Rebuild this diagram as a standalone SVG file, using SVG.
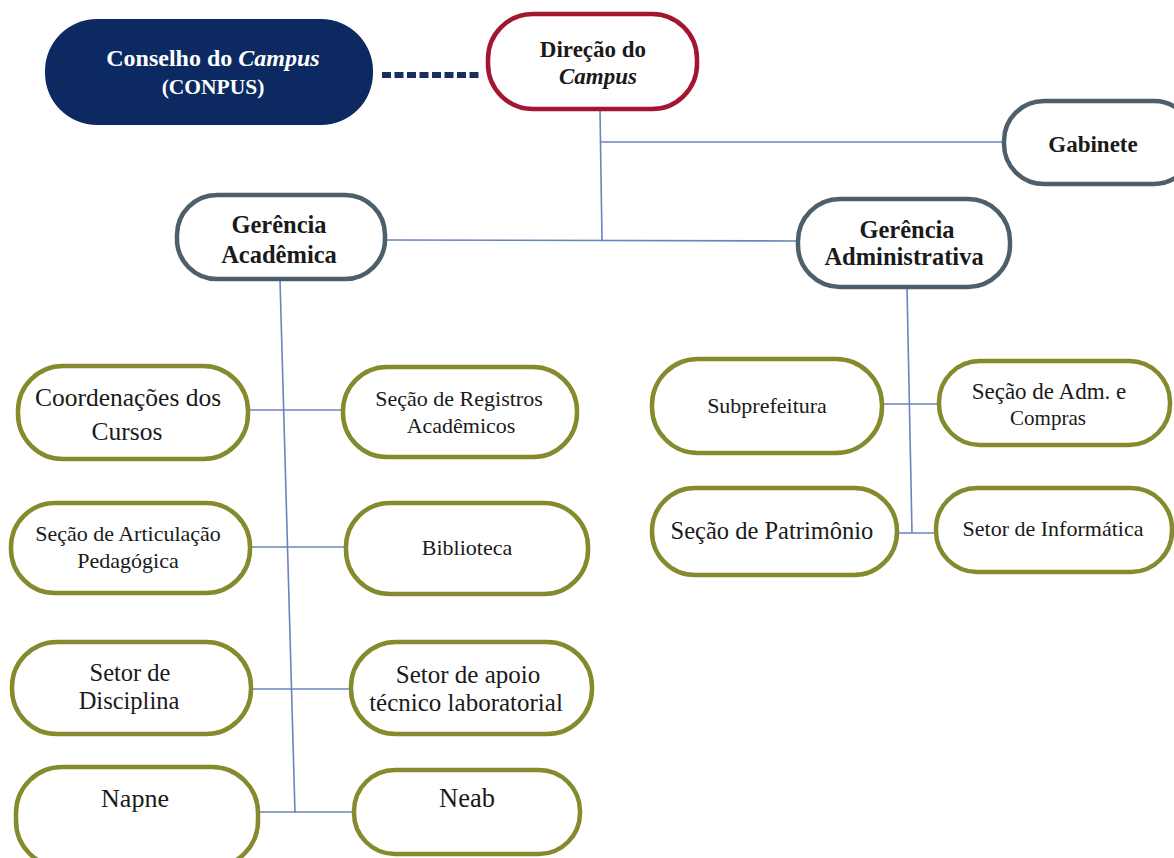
<svg xmlns="http://www.w3.org/2000/svg" width="1174" height="858" viewBox="0 0 1174 858">
<style>
.bg{fill:#ffffff}
.n{fill:#ffffff;stroke-width:4.5}
.olive{stroke:#858a2d}
.slate{stroke:#4e5f6c}
.red{stroke:#a3162f}
.ln{stroke:#6a84bd;stroke-width:1.6;fill:none}
.t{font-family:"Liberation Serif",serif;font-size:22px;fill:#1a1a1a;text-anchor:middle}
.tb{font-family:"Liberation Serif",serif;font-size:23px;font-weight:bold;fill:#1a1a1a;text-anchor:middle}
.w{fill:#ffffff}
</style>
<rect class="bg" width="1174" height="858"/>
<g id="connectors">
<line x1="382" y1="75" x2="480" y2="75" stroke="#1a2f5e" stroke-width="6" stroke-dasharray="9,3.5"/>
<line class="ln" x1="600" y1="110" x2="602" y2="241"/>
<line class="ln" x1="601" y1="142" x2="1003" y2="142"/>
<line class="ln" x1="385" y1="240" x2="797" y2="241"/>
<line class="ln" x1="280" y1="280" x2="295" y2="813"/>
<line class="ln" x1="248" y1="410" x2="343" y2="410"/>
<line class="ln" x1="250" y1="547" x2="346" y2="547"/>
<line class="ln" x1="251" y1="689" x2="350" y2="689"/>
<line class="ln" x1="258" y1="812" x2="353" y2="812"/>
<line class="ln" x1="907" y1="287" x2="912" y2="533"/>
<line class="ln" x1="882" y1="404" x2="939" y2="404"/>
<line class="ln" x1="897" y1="533" x2="936" y2="533"/>
</g>
<g id="conselho">
<rect x="45" y="19" width="328" height="106" rx="52" fill="#0c2a61"/>
<text class="tb w" x="213" y="66" style="font-size:24px">Conselho do <tspan font-style="italic">Campus</tspan></text>
<text class="tb w" x="213" y="94" style="font-size:21.5px">(CONPUS)</text>
</g>
<g id="direcao">
<rect class="n red" x="488" y="14" width="209" height="95" rx="45"/>
<text class="tb" x="593" y="57">Direção do</text>
<text class="tb" x="598" y="84" font-style="italic">Campus</text>
</g>
<g id="gabinete">
<rect class="n slate" x="1004" y="101" width="190" height="83" rx="40"/>
<text class="tb" x="1093" y="152">Gabinete</text>
</g>
<g id="ger-acad">
<rect class="n slate" x="177" y="195" width="208" height="84" rx="40"/>
<text class="tb" x="279" y="233" style="font-size:24.5px">Gerência</text>
<text class="tb" x="279" y="263" style="font-size:24.5px">Acadêmica</text>
</g>
<g id="ger-adm">
<rect class="n slate" x="798" y="199" width="212" height="88" rx="42"/>
<text class="tb" x="907" y="238" style="font-size:24.5px">Gerência</text>
<text class="tb" x="904" y="265" style="font-size:24.5px">Administrativa</text>
</g>
<g id="coordenacoes">
<rect class="n olive" x="18" y="366" width="230" height="93" rx="45"/>
<text class="t" x="128" y="406" style="font-size:25.5px">Coordenações dos</text>
<text class="t" x="127" y="440" style="font-size:25.5px">Cursos</text>
</g>
<g id="registros">
<rect class="n olive" x="343" y="367" width="234" height="90" rx="44"/>
<text class="t" x="459" y="406">Seção de Registros</text>
<text class="t" x="461" y="433">Acadêmicos</text>
</g>
<g id="articulacao">
<rect class="n olive" x="11" y="503" width="239" height="90" rx="44"/>
<text class="t" x="128" y="541">Seção de Articulação</text>
<text class="t" x="128" y="568">Pedagógica</text>
</g>
<g id="biblioteca">
<rect class="n olive" x="346" y="503" width="242" height="91" rx="44"/>
<text class="t" x="467" y="555">Biblioteca</text>
</g>
<g id="disciplina">
<rect class="n olive" x="12" y="642" width="239" height="92" rx="45"/>
<text class="t" x="130" y="681" style="font-size:24.5px">Setor de</text>
<text class="t" x="129" y="709" style="font-size:24.5px">Disciplina</text>
</g>
<g id="apoio">
<rect class="n olive" x="351" y="642" width="241" height="92" rx="45"/>
<text class="t" x="468" y="683" style="font-size:25px">Setor de apoio</text>
<text class="t" x="466" y="711" style="font-size:25px">técnico laboratorial</text>
</g>
<g id="napne">
<rect class="n olive" x="16" y="767" width="242" height="100" rx="46"/>
<text class="t" x="135" y="807" style="font-size:26px">Napne</text>
</g>
<g id="neab">
<rect class="n olive" x="354" y="770" width="226" height="84" rx="41"/>
<text class="t" x="467" y="807" style="font-size:26.5px">Neab</text>
</g>
<g id="subprefeitura">
<rect class="n olive" x="652" y="359" width="230" height="94" rx="46"/>
<text class="t" x="767" y="413">Subprefeitura</text>
</g>
<g id="adm-compras">
<rect class="n olive" x="939" y="361" width="231" height="84" rx="41"/>
<text class="t" x="1049" y="399" style="font-size:23px">Seção de Adm. e</text>
<text class="t" x="1048" y="425" style="font-size:21px">Compras</text>
</g>
<g id="patrimonio">
<rect class="n olive" x="652" y="488" width="245" height="87" rx="43"/>
<text class="t" x="772" y="539" style="font-size:24.5px">Seção de Patrimônio</text>
</g>
<g id="informatica">
<rect class="n olive" x="936" y="488" width="236" height="84" rx="41"/>
<text class="t" x="1053" y="536">Setor de Informática</text>
</g>
</svg>
